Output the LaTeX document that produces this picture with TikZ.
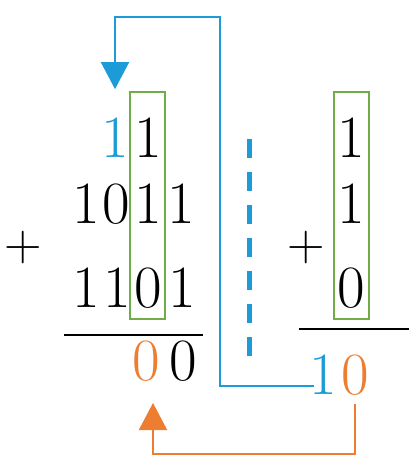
\documentclass[tikz,border=0pt]{standalone}
\usepackage{fontspec}
\usetikzlibrary{positioning,arrows.meta}
\definecolor{carryblue}{RGB}{27,156,214}
\definecolor{carryorange}{RGB}{237,125,49}
\definecolor{colgreen}{RGB}{112,173,71}
\tikzset{
  digit/.style={inner sep=0pt,anchor=base,font=\fontsize{60}{60}\selectfont},
  plussign/.style={inner sep=0pt,font=\fontsize{52}{52}\selectfont},
  colbox/.style={draw=colgreen,line width=2pt},
  sumrule/.style={line width=2pt},
  carryline/.style={line width=2pt,-{Triangle[width=28pt,length=27pt]}}
}
\begin{document}
\begin{tikzpicture}[x=1pt,y=-1pt]
		\useasboundingbox (0,0) rectangle (418,475);

		% Carry row
		\node[digit,text=carryblue] (cb) at (115,157) {1};
		\node[digit] (c1) at (148,157) {1};

		% Operands
		\foreach \d/\x [count=\i] in {1/86,0/116,1/148,1/181}
			\node[digit] (a\i) at (\x,223) {\d};
		\foreach \d/\x [count=\i] in {1/86,1/117,0/148,1/182}
			\node[digit] (b\i) at (\x,307) {\d};
		\node[plussign] (pl) at (23,248) {+};
		\draw[sumrule] (64,335) -- (203,335);

		% Result
		\node[digit,text=carryorange] (s0) at (146,380) {0};
		\node[digit] (s1) at (183,380) {0};

		% Column in focus
		\draw[colbox] (130,92) rectangle (165,319);

		% Separator
		\draw[carryblue,line width=5pt,dash pattern=on 19pt off 14pt] (249,139) -- (249,360);

		% Column sum
		\node[digit] (k1) at (351,157) {1};
		\node[digit] (k2) at (351,223) {1};
		\node[digit] (k3) at (351,307) {0};
		\node[plussign] (pr) at (306,248) {+};
		\draw[colbox] (334,92) rectangle (369,319);
		\draw[sumrule] (299,329) -- (409,329);
		\node[digit,text=carryblue] (r1) at (323,394) {1};
		\node[digit,text=carryorange] (r0) at (355,394) {0};

		% Carry arrows
		\coordinate (bend) at (220,17);
		\draw[carryline,carryblue] ([xshift=5pt,yshift=8pt]r1.base west) -| (bend)
			-| ([yshift=28pt]cb.north);
		\draw[carryline,carryorange] ([yshift=-9pt]r0.south) -- (r0.south |- 0,454)
			-| ([xshift=7pt,yshift=-23pt]s0.base);
	\end{tikzpicture}
\end{document}
